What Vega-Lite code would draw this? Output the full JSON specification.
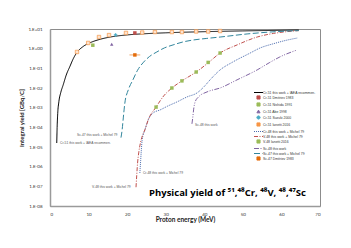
{
  "$schema": "https://vega.github.io/schema/vega-lite/v6.json",
  "width": 270,
  "height": 177,
  "autosize": "none",
  "padding": {"left": 50, "top": 29, "right": 31, "bottom": 42},
  "background": "white",
  "config": {
    "view": {"stroke": "#8c8c8c", "strokeWidth": 1},
    "font": "Lato",
    "legend": {
      "orient": "none",
      "legendX": 206,
      "legendY": 61,
      "labelFontSize": 3.4,
      "labelColor": "#333333",
      "labelFont": "Liberation Sans",
      "labelLimit": 200,
      "labelOffset": 2,
      "symbolSize": 25,
      "symbolStrokeWidth": 1,
      "rowPadding": -2,
      "padding": 0
    }
  },
  "title": {
    "text": "Physical yield of ⁵¹,⁴⁸Cr, ⁴⁸V, ⁴⁸,⁴⁷Sc",
    "orient": "top",
    "anchor": "end",
    "frame": "group",
    "font": "Open Sans",
    "fontSize": 9.5,
    "fontWeight": "bold",
    "color": "#000000",
    "dy": 175,
    "dx": -14
  },
  "datasets": {
    "lines": [
      {"series": "Cr-51 this work + IAEA recommen.", "e": 1.75, "y": 1.6e-5},
      {"series": "Cr-51 this work + IAEA recommen.", "e": 1.85, "y": 1e-4},
      {"series": "Cr-51 this work + IAEA recommen.", "e": 2.0, "y": 5e-4},
      {"series": "Cr-51 this work + IAEA recommen.", "e": 2.3, "y": 2e-3},
      {"series": "Cr-51 this work + IAEA recommen.", "e": 2.8, "y": 6e-3},
      {"series": "Cr-51 this work + IAEA recommen.", "e": 3.4, "y": 1.4e-2},
      {"series": "Cr-51 this work + IAEA recommen.", "e": 4.2, "y": 4.5e-2},
      {"series": "Cr-51 this work + IAEA recommen.", "e": 5.2, "y": 0.13},
      {"series": "Cr-51 this work + IAEA recommen.", "e": 6.0, "y": 0.3},
      {"series": "Cr-51 this work + IAEA recommen.", "e": 7.0, "y": 0.65},
      {"series": "Cr-51 this work + IAEA recommen.", "e": 8.5, "y": 1.25},
      {"series": "Cr-51 this work + IAEA recommen.", "e": 10.4, "y": 2.0},
      {"series": "Cr-51 this work + IAEA recommen.", "e": 13, "y": 3.0},
      {"series": "Cr-51 this work + IAEA recommen.", "e": 15.6, "y": 3.9},
      {"series": "Cr-51 this work + IAEA recommen.", "e": 20, "y": 5.0},
      {"series": "Cr-51 this work + IAEA recommen.", "e": 25, "y": 5.8},
      {"series": "Cr-51 this work + IAEA recommen.", "e": 30, "y": 6.4},
      {"series": "Cr-51 this work + IAEA recommen.", "e": 40, "y": 7.3},
      {"series": "Cr-51 this work + IAEA recommen.", "e": 50, "y": 8.0},
      {"series": "Cr-51 this work + IAEA recommen.", "e": 60, "y": 8.6},
      {"series": "Cr-51 this work + IAEA recommen.", "e": 64.5, "y": 8.9},

      {"series": "Cr-48 this work + Michel 79", "e": 23.3, "y": 4.8e-7},
      {"series": "Cr-48 this work + Michel 79", "e": 23.5, "y": 2e-6},
      {"series": "Cr-48 this work + Michel 79", "e": 23.7, "y": 8e-6},
      {"series": "Cr-48 this work + Michel 79", "e": 23.9, "y": 2.3e-5},
      {"series": "Cr-48 this work + Michel 79", "e": 24.6, "y": 7.4e-5},
      {"series": "Cr-48 this work + Michel 79", "e": 25.5, "y": 2.5e-4},
      {"series": "Cr-48 this work + Michel 79", "e": 26.8, "y": 5.5e-4},
      {"series": "Cr-48 this work + Michel 79", "e": 28.5, "y": 7.6e-4},
      {"series": "Cr-48 this work + Michel 79", "e": 30.5, "y": 1.2e-3},
      {"series": "Cr-48 this work + Michel 79", "e": 32.9, "y": 1.95e-3},
      {"series": "Cr-48 this work + Michel 79", "e": 35.5, "y": 3.5e-3},
      {"series": "Cr-48 this work + Michel 79", "e": 38.1, "y": 5.6e-3},
      {"series": "Cr-48 this work + Michel 79", "e": 40, "y": 1.2e-2},
      {"series": "Cr-48 this work + Michel 79", "e": 41.5, "y": 2.6e-2},
      {"series": "Cr-48 this work + Michel 79", "e": 44.1, "y": 8.3e-2},
      {"series": "Cr-48 this work + Michel 79", "e": 47.4, "y": 0.21},
      {"series": "Cr-48 this work + Michel 79", "e": 51.9, "y": 0.6},
      {"series": "Cr-48 this work + Michel 79", "e": 54.4, "y": 1.07},
      {"series": "Cr-48 this work + Michel 79", "e": 58, "y": 1.8},
      {"series": "Cr-48 this work + Michel 79", "e": 61, "y": 2.6},
      {"series": "Cr-48 this work + Michel 79", "e": 64.2, "y": 3.5},

      {"series": "V-48 this work + Michel 79", "e": 22.3, "y": 9e-8},
      {"series": "V-48 this work + Michel 79", "e": 22.5, "y": 4e-7},
      {"series": "V-48 this work + Michel 79", "e": 22.7, "y": 1.5e-6},
      {"series": "V-48 this work + Michel 79", "e": 23.0, "y": 5e-6},
      {"series": "V-48 this work + Michel 79", "e": 23.5, "y": 1.8e-5},
      {"series": "V-48 this work + Michel 79", "e": 24.0, "y": 4e-5},
      {"series": "V-48 this work + Michel 79", "e": 24.6, "y": 7.4e-5},
      {"series": "V-48 this work + Michel 79", "e": 25.5, "y": 2.5e-4},
      {"series": "V-48 this work + Michel 79", "e": 27.5, "y": 1.07e-3},
      {"series": "V-48 this work + Michel 79", "e": 29.5, "y": 4e-3},
      {"series": "V-48 this work + Michel 79", "e": 31.6, "y": 1e-2},
      {"series": "V-48 this work + Michel 79", "e": 34.2, "y": 2.3e-2},
      {"series": "V-48 this work + Michel 79", "e": 37.9, "y": 6.5e-2},
      {"series": "V-48 this work + Michel 79", "e": 41, "y": 0.19},
      {"series": "V-48 this work + Michel 79", "e": 44.1, "y": 0.6},
      {"series": "V-48 this work + Michel 79", "e": 48.5, "y": 1.55},
      {"series": "V-48 this work + Michel 79", "e": 53.7, "y": 3.9},
      {"series": "V-48 this work + Michel 79", "e": 58, "y": 6.0},
      {"series": "V-48 this work + Michel 79", "e": 61, "y": 7.2},
      {"series": "V-48 this work + Michel 79", "e": 64.5, "y": 8.3},

      {"series": "Sc-48 this work", "e": 36.8, "y": 1.5e-4},
      {"series": "Sc-48 this work", "e": 37.0, "y": 3e-4},
      {"series": "Sc-48 this work", "e": 37.3, "y": 1e-3},
      {"series": "Sc-48 this work", "e": 37.6, "y": 1.9e-3},
      {"series": "Sc-48 this work", "e": 38.5, "y": 3.5e-3},
      {"series": "Sc-48 this work", "e": 40.7, "y": 6.3e-3},
      {"series": "Sc-48 this work", "e": 44.1, "y": 1e-2},
      {"series": "Sc-48 this work", "e": 48.5, "y": 2.6e-2},
      {"series": "Sc-48 this work", "e": 53.7, "y": 8.3e-2},
      {"series": "Sc-48 this work", "e": 57, "y": 0.2},
      {"series": "Sc-48 this work", "e": 59.6, "y": 0.38},
      {"series": "Sc-48 this work", "e": 64, "y": 0.85},

      {"series": "Sc-47 this work + Michel 79", "e": 18.4, "y": 3e-5},
      {"series": "Sc-47 this work + Michel 79", "e": 18.7, "y": 7.4e-5},
      {"series": "Sc-47 this work + Michel 79", "e": 19.0, "y": 3e-4},
      {"series": "Sc-47 this work + Michel 79", "e": 19.4, "y": 1.7e-3},
      {"series": "Sc-47 this work + Michel 79", "e": 20.3, "y": 8e-3},
      {"series": "Sc-47 this work + Michel 79", "e": 21.5, "y": 2.6e-2},
      {"series": "Sc-47 this work + Michel 79", "e": 22.7, "y": 0.08},
      {"series": "Sc-47 this work + Michel 79", "e": 24.1, "y": 0.19},
      {"series": "Sc-47 this work + Michel 79", "e": 25.8, "y": 0.4},
      {"series": "Sc-47 this work + Michel 79", "e": 27.7, "y": 0.68},
      {"series": "Sc-47 this work + Michel 79", "e": 29.7, "y": 1.1},
      {"series": "Sc-47 this work + Michel 79", "e": 31.9, "y": 1.55},
      {"series": "Sc-47 this work + Michel 79", "e": 34.5, "y": 2.2},
      {"series": "Sc-47 this work + Michel 79", "e": 37.1, "y": 2.75},
      {"series": "Sc-47 this work + Michel 79", "e": 40.5, "y": 3.3},
      {"series": "Sc-47 this work + Michel 79", "e": 44.1, "y": 3.9},
      {"series": "Sc-47 this work + Michel 79", "e": 51.1, "y": 5.6},
      {"series": "Sc-47 this work + Michel 79", "e": 57, "y": 7.0},
      {"series": "Sc-47 this work + Michel 79", "e": 64.5, "y": 8.3}
    ],
    "points": [
      {"series": "Cr-51 Dmitriev 1983", "e": 22, "y": 6.3},
      {"series": "Cr-51 Nishida 1991", "e": 11.1, "y": 1.5},
      {"series": "Cr-51 Abe 1998", "e": 16, "y": 1.7},
      {"series": "Cr-51 Suzuki 2000", "e": 17, "y": 5.0},
      {"series": "V-48 Ianetti 2016", "e": 27.5, "y": 1.07e-3},
      {"series": "V-48 Ianetti 2016", "e": 31.6, "y": 1e-2},
      {"series": "V-48 Ianetti 2016", "e": 34.2, "y": 2.3e-2},
      {"series": "V-48 Ianetti 2016", "e": 37.9, "y": 6.5e-2},
      {"series": "V-48 Ianetti 2016", "e": 41, "y": 0.2},
      {"series": "V-48 Ianetti 2016", "e": 44.1, "y": 0.6},
      {"series": "Sc-47 Dmitriev 1983", "e": 22, "y": 0.48}
    ],
    "open": [
      {"series": "Cr-51 Ianetti 2016", "e": 7.0, "y": 0.68},
      {"series": "Cr-51 Ianetti 2016", "e": 9.9, "y": 1.95},
      {"series": "Cr-51 Ianetti 2016", "e": 12.7, "y": 3.9},
      {"series": "Cr-51 Ianetti 2016", "e": 15.3, "y": 4.9},
      {"series": "Cr-51 Ianetti 2016", "e": 19.7, "y": 6.3},
      {"series": "Cr-51 Ianetti 2016", "e": 23.9, "y": 6.6},
      {"series": "Cr-51 Ianetti 2016", "e": 27.2, "y": 7.0},
      {"series": "Cr-51 Ianetti 2016", "e": 31.6, "y": 7.0},
      {"series": "Cr-51 Ianetti 2016", "e": 34.2, "y": 7.0},
      {"series": "Cr-51 Ianetti 2016", "e": 37.9, "y": 7.5},
      {"series": "Cr-51 Ianetti 2016", "e": 41, "y": 7.5},
      {"series": "Cr-51 Ianetti 2016", "e": 44.1, "y": 7.9}
    ],
    "errs": [
      {"series": "Sc-47 Dmitriev 1983", "e1": 20.6, "e2": 23.4, "y": 0.48}
    ],
    "labels": [
      {"label": "Cr-51 this work + IAEA recommen.", "e": 2.6, "y": 1.6e-5},
      {"label": "Sc-47 this work + Michel 79", "e": 7.0, "y": 4e-5},
      {"label": "V-48 this work + Michel 79", "e": 10.9, "y": 9.3e-8},
      {"label": "Cr-48 this work + Michel 79", "e": 24.1, "y": 4.8e-7},
      {"label": "Sc-48 this work", "e": 37.6, "y": 1.3e-4}
    ]
  },
  "encoding": {
    "x": {
      "field": "e", "type": "quantitative",
      "scale": {"domain": [0, 70], "nice": false, "zero": false},
      "axis": {
        "title": "Proton energy (MeV)",
        "values": [0, 10, 20, 30, 40, 50, 60, 70],
        "grid": false, "ticks": false,
        "domainColor": "#9a9a9a", "domainWidth": 1.5,
        "labelFontSize": 4.5, "labelColor": "#333333", "labelPadding": 5,
        "titleFontSize": 6.5, "titleFontWeight": "bold", "titleColor": "#222222", "titlePadding": 1
      }
    },
    "y": {
      "field": "y", "type": "quantitative",
      "scale": {"type": "log", "domain": [1e-8, 10], "nice": false},
      "axis": {
        "title": "Integral yield [GBq/C]",
        "values": [1e-8, 1e-7, 1e-6, 1e-5, 1e-4, 1e-3, 1e-2, 1e-1, 1, 10],
        "labelExpr": "'1.E' + (datum.value >= 0.999 ? '+' : '-') + '0' + abs(round(log(datum.value) / LN10))",
        "grid": false, "ticks": false,
        "domainColor": "#9a9a9a", "domainWidth": 1.5,
        "labelFontSize": 4.5, "labelColor": "#333333", "labelPadding": 8,
        "titleFontSize": 6, "titleFontWeight": "bold", "titleColor": "#222222", "titlePadding": 3
      }
    }
  },
  "layer": [
    {
      "data": {"name": "lines"},
      "mark": {"type": "line", "strokeWidth": 1, "interpolate": "monotone"},
      "encoding": {
        "detail": {"field": "series"},
        "color": {
          "field": "series", "type": "nominal", "title": null,
          "scale": {
            "domain": ["Cr-51 this work + IAEA recommen.", "Cr-51 Dmitriev 1983", "Cr-51 Nishida 1991", "Cr-51 Abe 1998", "Cr-51 Suzuki 2000", "Cr-51 Ianetti 2016", "Cr-48 this work + Michel 79", "V-48 this work + Michel 79", "V-48 Ianetti 2016", "Sc-48 this work", "Sc-47 this work + Michel 79", "Sc-47 Dmitriev 1983"],
            "range": ["#000000", "#C0504D", "#9BBB59", "#8064A2", "#4BACC6", "#F79646", "#4A6BAE", "#C0504D", "#9BBB59", "#8064A2", "#31859C", "#E46C0A"]
          },
          "legend": {
            "encode": {
              "symbols": {
                "update": {
                  "size": {"signal": "indexof(['Cr-51 this work + IAEA recommen.','Cr-48 this work + Michel 79','V-48 this work + Michel 79','Sc-48 this work','Sc-47 this work + Michel 79'], datum.value) >= 0 ? 81 : 10"},
                  "fill": {"signal": "datum.value === 'Cr-51 Ianetti 2016' ? '#FDE3CF' : scale('color', datum.value)"},
                  "stroke": {"signal": "scale('color', datum.value)"},
                  "opacity": {"value": 1},
                  "strokeWidth": {"value": 1}
                }
              }
            }
          }
        },
        "strokeDash": {
          "field": "series", "type": "nominal", "title": null,
          "scale": {
            "domain": ["Cr-51 this work + IAEA recommen.", "Cr-51 Dmitriev 1983", "Cr-51 Nishida 1991", "Cr-51 Abe 1998", "Cr-51 Suzuki 2000", "Cr-51 Ianetti 2016", "Cr-48 this work + Michel 79", "V-48 this work + Michel 79", "V-48 Ianetti 2016", "Sc-48 this work", "Sc-47 this work + Michel 79", "Sc-47 Dmitriev 1983"],
            "range": [[1, 0], [1, 0], [1, 0], [1, 0], [1, 0], [1, 0], [1, 1], [4, 1.5, 1, 1.5], [1, 0], [5, 1.5, 1, 1.5, 1, 1.5], [6, 2.5], [1, 0]]
          }
        }
      }
    },
    {
      "data": {"name": "errs"},
      "mark": {"type": "rule", "strokeWidth": 0.6, "color": "#E46C0A"},
      "encoding": {
        "x": {"field": "e1", "type": "quantitative"},
        "x2": {"field": "e2"},
        "y": {"field": "y", "type": "quantitative"}
      }
    },
    {
      "data": {"name": "open"},
      "mark": {"type": "point", "shape": "square", "filled": false, "fill": "#FDE3CF", "fillOpacity": 1, "strokeWidth": 0.7, "size": 12, "opacity": 1},
      "encoding": {
        "color": {"field": "series", "type": "nominal", "title": null}
      }
    },
    {
      "data": {"name": "points"},
      "mark": {"type": "point", "filled": true, "size": 12, "opacity": 1},
      "encoding": {
        "color": {"field": "series", "type": "nominal", "title": null},
        "shape": {
          "field": "series", "type": "nominal", "title": null,
          "scale": {
            "domain": ["Cr-51 this work + IAEA recommen.", "Cr-51 Dmitriev 1983", "Cr-51 Nishida 1991", "Cr-51 Abe 1998", "Cr-51 Suzuki 2000", "Cr-51 Ianetti 2016", "Cr-48 this work + Michel 79", "V-48 this work + Michel 79", "V-48 Ianetti 2016", "Sc-48 this work", "Sc-47 this work + Michel 79", "Sc-47 Dmitriev 1983"],
            "range": ["stroke", "square", "square", "triangle-up", "cross", "square", "stroke", "stroke", "square", "stroke", "stroke", "square"]
          }
        }
      }
    },
    {
      "data": {"name": "labels"},
      "mark": {"type": "text", "align": "left", "baseline": "middle", "fontSize": 3.3, "color": "#555555", "font": "Liberation Sans"},
      "encoding": {"text": {"field": "label"}}
    }
  ]
}
